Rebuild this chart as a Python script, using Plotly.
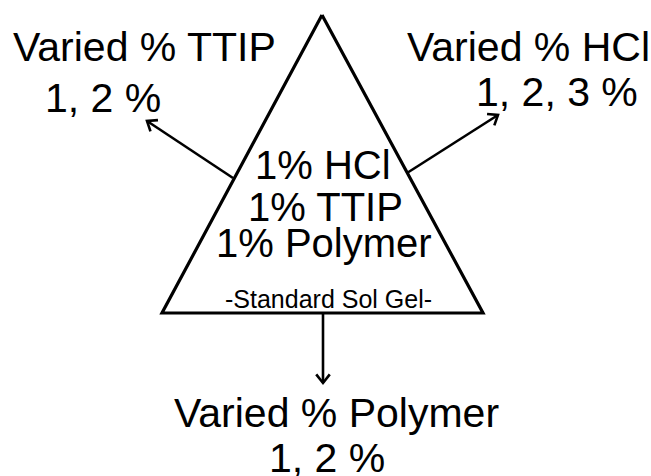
import math
import plotly.graph_objects as go

W, H = 651, 476

# Triangle vertices (pixel coordinates, y downward)
tri_x = [322, 483, 162, 322]
tri_y = [15, 313, 313, 15]

# Arrows: tail -> tip
arrow_tail_x = [233, 407, 323]
arrow_tail_y = [178, 173, 312]
arrow_tip_x = [147, 498, 323]
arrow_tip_y = [121, 115, 383]

# Text labels
label_text = ["Varied % TTIP", "1, 2 %", "Varied % HCl", "1, 2, 3 %",
              "1% HCl", "1% TTIP", "1% Polymer", "-Standard Sol Gel-",
              "Varied % Polymer", "1, 2 %"]
label_x = [144, 103, 528, 557, 322.5, 325, 323.5, 328, 336, 327]
label_y = [46.5, 98, 46.5, 91.5, 165, 206.5, 243, 299, 413, 457.5]
label_size = [41, 41, 41, 41, 40, 40, 40, 25, 41, 41]

fig = go.Figure()
fig.add_trace(go.Scatter(x=tri_x, y=tri_y, mode="lines",
                         line=dict(color="black", width=3.2), hoverinfo="skip"))

ax_x, ax_y = [], []
head_len, half_ang = 11, math.radians(38)
for tx, ty, hx, hy in zip(arrow_tail_x, arrow_tail_y, arrow_tip_x, arrow_tip_y):
    ax_x += [tx, hx, None]
    ax_y += [ty, hy, None]
    ang = math.atan2(ty - hy, tx - hx)
    ax_x += [hx + head_len * math.cos(ang + half_ang), hx,
             hx + head_len * math.cos(ang - half_ang), None]
    ax_y += [hy + head_len * math.sin(ang + half_ang), hy,
             hy + head_len * math.sin(ang - half_ang), None]
fig.add_trace(go.Scatter(x=ax_x, y=ax_y, mode="lines",
                         line=dict(color="black", width=2.6), hoverinfo="skip"))

for t, x, y, s in zip(label_text, label_x, label_y, label_size):
    fig.add_annotation(x=x, y=y, text=t, showarrow=False, xanchor="center",
                       yanchor="middle",
                       font=dict(family="Liberation Sans, Arial", size=s, color="black"))

fig.update_layout(width=W, height=H, margin=dict(l=0, r=0, t=0, b=0),
                  paper_bgcolor="white", plot_bgcolor="white", showlegend=False)
fig.update_xaxes(range=[0, W], visible=False, fixedrange=True)
fig.update_yaxes(range=[H, 0], visible=False, fixedrange=True)
fig.write_html("out.html", config={"displayModeBar": False},
               post_script="document.body.style.margin='0';document.body.style.overflow='hidden';")
